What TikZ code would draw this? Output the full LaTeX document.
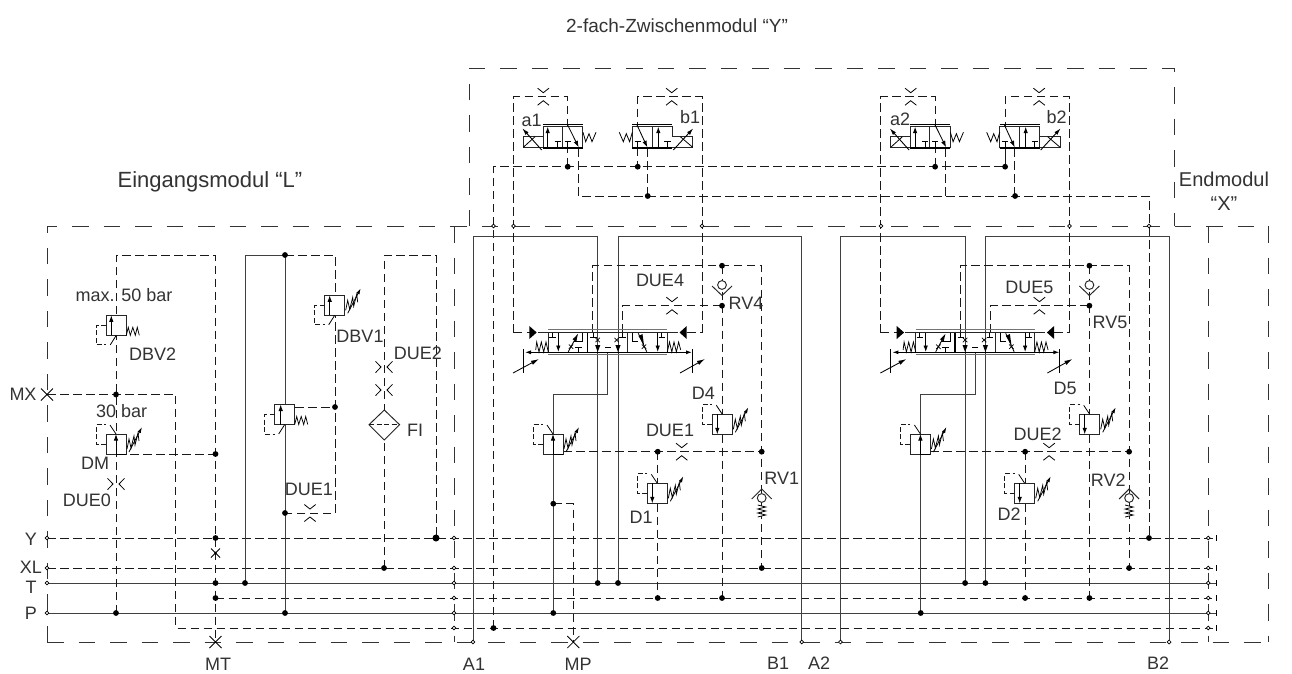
\documentclass[tikz,border=0pt]{standalone}
\usepackage{fontspec}
\setmainfont{Liberation Sans}
\usetikzlibrary{arrows.meta}
\tikzset{
  sol/.style={line width=.95pt,draw=black!75},
  dsh/.style={line width=1pt,draw=black!90,dash pattern=on 8.5pt off 4.5pt},
  frm/.style={line width=1pt,draw=black!80,dash pattern=on 16.5pt off 15pt},
  thn/.style={line width=.8pt,draw=black},
  cmp/.style={line width=.95pt,draw=black!85},
  txt/.style={inner sep=0pt,text=black!80,font=\fontsize{18}{20}\selectfont},
  big/.style={inner sep=0pt,text=black!80,font=\fontsize{20}{24}\selectfont,align=center},
  head/.style={-{Latex[length=6.5pt,width=4.5pt]}}
}
\newcommand\jdot[2]{\fill[black] (#1,#2) circle (2.9pt);}
\newcommand\pport[2]{\draw[line width=.7pt,fill=white] (#1,#2) circle (1.9pt);}
\newcommand\lab[4]{\node[txt] (#1) at (#2,#3) {#4};}
\newcommand\throtV[2]{\begin{scope}[shift={(#1,#2)}]
  \draw[thn] (-5.7,-8.5)--(0,-4)--(5.7,-8.5) (-5.7,8.5)--(0,4)--(5.7,8.5);
  \end{scope}}
\newcommand\throtH[2]{\begin{scope}[shift={(#1,#2)}]
  \draw[thn] (-8.5,-5.7)--(-3,0)--(-8.5,5.7) (8.5,-5.7)--(3,0)--(8.5,5.7);
  \end{scope}}
\newcommand\xmark[2]{\begin{scope}[shift={(#1,#2)}]
  \draw[thn] (-6,-6)--(6,6) (-6,6)--(6,-6);
  \end{scope}}
\newcommand\smallx[2]{\begin{scope}[shift={(#1,#2)}]
  \draw[line width=.7pt] (-2.2,-2.2)--(2.2,2.2) (-2.2,2.2)--(2.2,-2.2);
  \end{scope}}
% spring, plain
\newcommand\springP{\draw[line width=.75pt] (20,20)--(22,12)--(24,20)--(26.5,12)--(29,20)--(31,12)--(33,20);}
% spring, adjustable
\newcommand\springA{\draw[line width=.75pt] (21,15)--(23,5)--(25,14)--(28,2)--(29,11)--(32,-1)--(33,7);
  \draw[line width=.8pt,-{Latex[length=6pt,width=3.5pt]}] (23,18)--(36,-7);}
% pilot lines below / above
\newcommand\pilotB{\draw[dsh,dash pattern=on 5pt off 2.5pt] (0,10)--(-10,10)--(-10,29.5)--(0,29.5);\draw[line width=.8pt] (4,29.5)--(10,20);}
\newcommand\pilotA{\draw[dsh,dash pattern=on 5pt off 2.5pt] (0,10)--(-10,10)--(-10,-9.5)--(0,-9.5);\draw[line width=.8pt] (4,-9)--(10,0);}
% relief valve: x y kind pieces
\newcommand\vUp[3]{\begin{scope}[shift={(#1,#2)}]
  \draw[cmp,fill=white] (0,0) rectangle (20,20);
  \draw[line width=.85pt,head] (#3,20)--(#3,0);
  }
\newcommand\vDown[3]{\begin{scope}[shift={(#1,#2)}]
  \draw[cmp,fill=white] (0,0) rectangle (20,20);
  \draw[line width=.85pt,head] (#3,0)--(#3,20);
  }
% check valve: seat opening upward (RV4) or downward (RV1)
\newcommand\checkU[2]{\begin{scope}[shift={(#1,#2)}]
  \draw[cmp,fill=white] (0,0) circle (4.4pt);
  \draw[cmp] (-10,1)--(0,10.5)--(10,1);
  \end{scope}}
\newcommand\checkD[2]{\begin{scope}[shift={(#1,#2)}]
  \draw[cmp,fill=white] (0,0) circle (4.4pt);
  \draw[cmp] (-10,1)--(0,-9)--(10,1);
  \draw[line width=.8pt,fill=white] (-4,7)--(4,9)--(-4,11)--(4,13)--(-4,15)--(4,17)--(-4,19);
  \end{scope}}
\newcommand\tbar[3]{\draw[line width=.8pt] (#1,#2)--(#1,#3) (#1-3.2,#3)--(#1+3.2,#3);}
\newcommand\tipD[2]{\fill[black] (#1,#2)--(#1-2.6,#2-7)--(#1+2.6,#2-7)--cycle;}
% small pilot 4/2 valve, box 40x20.5, at (x0,126.7)
\newcommand\solA[1]{\begin{scope}[shift={(#1,126.7)}]
  \draw[cmp,fill=white] (0,0) rectangle (39.7,20.6);
  \draw[cmp] (19.4,0)--(19.4,20.6);
  \draw[line width=.9pt] (0,-2.4)--(39.7,-2.4);
  \draw[line width=1pt] (0,20.6)--(39.7,20.6) (0,22)--(39.7,22);
  \draw[cmp,fill=white] (0,10)--(-19.7,10)--(-19.7,20.6)--(0,20.6);
  \draw[line width=.8pt] (-19.7,20.6)--(-8,10);
  \draw[line width=.9pt,-{Latex[length=7pt,width=4pt]}] (-1.3,23.3)--(-20.7,1.6);
  \draw[line width=.85pt,head] (4.7,20.6)--(4.7,0);
  \tbar{14.7}{20.6}{15}
  \tbar{24.7}{20.6}{15}
  \draw[line width=.85pt,head] (24.3,-2.4)--(35.7,20.6);
  \draw[line width=.8pt] (40,5.6)--(42.7,15)--(46,7)--(49,15)--(53,5.6);
  \end{scope}}
\newcommand\solB[1]{\begin{scope}[shift={(#1,126.7)}]
  \draw[cmp,fill=white] (0,0) rectangle (40,20.6);
  \draw[cmp] (20,0)--(20,20.6);
  \draw[line width=.9pt] (0,-2.4)--(40,-2.4);
  \draw[line width=1pt] (0,20.6)--(40,20.6) (0,22)--(40,22);
  \draw[cmp,fill=white] (40,10)--(60.4,10)--(60.4,20.6)--(40,20.6);
  \draw[line width=.8pt] (60.4,20.6)--(48,10);
  \draw[line width=.9pt,-{Latex[length=7pt,width=4pt]}] (41,23.3)--(61,1.6);
  \draw[line width=.85pt,head] (26,20.6)--(26,0);
  \tbar{5.4}{20.6}{15}
  \tbar{35}{20.6}{15}
  \draw[line width=.85pt,head] (4.4,-2.4)--(15,20.6);
  \draw[line width=.8pt] (0,5.6)--(-2.7,15)--(-6,7)--(-9,15)--(-13,5.6);
  \end{scope}}
% one complete working section (drawn at the position of the first one)
\newcommand\worksec{%
  % main lines
  \draw[sol] (473,642)--(473,236)--(597.7,236)--(597.7,583);
  \draw[sol] (801.7,642)--(801.7,236)--(618,236)--(618,583);
  \draw[sol] (607.7,352)--(607.7,394.3)--(553.3,394.3)--(553.3,613);
  % pilot section
  \draw[dsh] (513.5,332.5)--(513.5,96.7)--(567.7,96.7)--(567.7,166.7);
  \draw[dsh] (702,332.5)--(702,96.7)--(637.7,96.7)--(637.7,166.7);
  \draw[dsh] (513.5,332.5)--(530,332.5);
  \draw[dsh] (687,332.5)--(702,332.5);
  \throtV{543.3}{96.7}
  \throtV{671.7}{96.7}
  \solA{543}
  \solB{632.3}
  \jdot{567.7}{166.7}
  \jdot{637.7}{166.7}
  \jdot{647.7}{196}
  % supply
  \draw[dsh] (592.7,332.5)--(592.7,265.7)--(761.7,265.7)--(761.7,568);
  \draw[dsh] (722,265.7)--(722,598);
  \draw[dsh] (622.7,332.5)--(622.7,305.7)--(722,305.7);
  \throtV{672}{305.7}
  \jdot{722}{265.7}
  \jdot{722}{305.7}
  \checkU{722}{285}
  \draw[dsh] (563,451.7)--(761.7,451.7);
  \draw[dsh] (657.7,451.7)--(657.7,598);
  \throtV{681.7}{451.7}
  \jdot{657.7}{451.7}
  \jdot{761.7}{451.7}
  \checkD{761.7}{498}
  % main valve
  \draw[line width=1.5pt,draw=black!55] (548.3,329.7)--(667.3,329.7) (548.3,354.6)--(667.3,354.6);
  \draw[cmp] (538,332.5)--(678,332.5);
  \draw[cmp] (548.3,332.5)--(548.3,352.3) (627.7,332.5)--(627.7,352.3) (667.3,332.5)--(667.3,352.3);
  \draw[line width=1.4pt] (587.7,332.5)--(587.7,352.3);
  \draw[line width=1pt,{Latex[length=6pt,width=4pt]}-{Latex[length=6pt,width=4pt]}] (525,352.3)--(692,352.3);
  \draw[thn] (523.3,349)--(523.3,373) (692,349)--(692,373);
  \draw[line width=.85pt,-{Latex[length=8pt,width=4.5pt]}] (513,373)--(539,359);
  \draw[line width=.85pt,-{Latex[length=8pt,width=4.5pt]}] (680,373)--(705,359);
  \fill[black] (529.3,326)--(536.7,332.5)--(529.3,339)--cycle;
  \fill[black] (679.5,332.5)--(686.7,326)--(686.7,339)--cycle;
  \draw[line width=.75pt] (548.3,352)--(546,342)--(543.7,352)--(541.3,342)--(539,352)--(536.7,342)--(535.7,350);
  \draw[line width=.75pt] (667.3,352)--(669.5,342)--(671.8,352)--(674,342)--(676.4,352)--(678.6,342)--(680.7,350);
  \tbar{552.3}{332.5}{337.3}
  \draw[line width=.85pt,head] (558.3,332.5)--(558.3,352);
  \draw[line width=.85pt,-{Latex[length=8pt,width=4.5pt]}] (568.3,351.7)--(578.3,333.3);
  \draw[line width=.8pt] (574,341.7)--(582.7,341.7)--(582.7,332.5);
  \smallx{571}{346.7}
  \draw[line width=.8pt] (578.3,352)--(578.3,347) (575,347)--(581.7,347);
  \tbar{593.3}{332.5}{337.3}
  \tbar{622.3}{332.5}{337.3}
  \smallx{597.7}{340}
  \smallx{616.7}{340}
  \tipD{597.7}{352}
  \tipD{618}{352}
  \draw[line width=.8pt] (605,347)--(610.7,347);
  \draw[line width=.8pt] (632.7,332.5)--(632.7,341)--(638.3,341);
  \draw[line width=.85pt] (638.3,333.3)--(646.7,351.7);
  \fill[black] (644,345)--(638.5,336)--(642.5,334)--cycle;
  \smallx{644}{346.7}
  \draw[line width=.85pt,head] (657.7,332.5)--(657.7,352);
  \tbar{661.7}{332.5}{337.3}
  % pressure valves
  \vUp{543}{434}{10}\pilotA\springA
    \draw[line width=.8pt] (10,20)--(20,20);\end{scope}
  \vDown{647.3}{483.3}{5}\pilotA\springA\end{scope}
  \vDown{712.3}{414.3}{5}\pilotA\springA\end{scope}
  % dots
  \jdot{553.3}{613}
  \jdot{597.7}{583}
  \jdot{618}{583}
  \jdot{657.7}{598}
  \jdot{722}{598}
  \jdot{761.7}{568}
  \pport{473}{642}
  \pport{801.7}{642}
  \pport{513.5}{226}
  \pport{702}{226}
}
\begin{document}
\begin{tikzpicture}[x=1pt,y=-1pt]
\useasboundingbox (0,0) rectangle (1292,673);
\fill[white] (0,0) rectangle (1292,673);
% frames
\draw[frm] (47,642)--(47,226)--(1268,226);
\draw[frm] (1268,226)--(1268,642);
\draw[frm] (47,642)--(1268,642);
\draw[frm] (454,226)--(454,642);
\draw[frm] (1208.3,226)--(1208.3,642);
\draw[frm] (469,226)--(469,68)--(1174,68)--(1174,226);
% horizontal bus lines
\draw[dsh] (47,538)--(1216,538);
\draw[dsh] (47,568)--(1216,568);
\draw[sol] (47,583)--(1216,583);
\draw[dsh] (215.5,598)--(1216,598);
\draw[sol] (47,613)--(1216,613);
\draw[dsh] (47,394.5)--(175.7,394.5)--(175.7,628)--(1216,628);
\foreach \yy in {538,568,583,598,613,628}{
  \draw[line width=.8pt] (1216,\yy-3)--(1216,\yy+3);
  \pport{454}{\yy}
  \pport{1208.3}{\yy}
}
\foreach \yy in {538,568,583,613}{\pport{47}{\yy}}
% inlet module
\draw[dsh] (116,613)--(116,255)--(215.5,255)--(215.5,642);
\draw[sol] (245,583)--(245,255)--(285,255)--(285,613);
\draw[dsh] (285,255)--(335,255)--(335,513)--(285,513);
\draw[dsh] (295,407)--(335,407);
\draw[dsh] (384,568)--(384,255)--(436,255)--(436,538);
\draw[dsh] (130,454)--(215.5,454);
\vUp{106.3}{315.3}{5}\pilotB\springP\end{scope}
\vUp{106}{434}{10}\pilotA\springA
  \draw[line width=.8pt] (10,20)--(20,20);\end{scope}
\vUp{324.7}{295.3}{5}\pilotB\springA\end{scope}
\vUp{274.7}{404.5}{6}\pilotB\springP\end{scope}
\throtH{116}{484}
\throtV{310}{513}
\throtH{384}{367}
\throtH{384}{390}
\draw[cmp,fill=white] (369,424.7)--(384.3,410)--(399.6,424.7)--(384.3,440)--cycle;
\draw[dsh,dash pattern=on 5pt off 2.5pt] (369,424.7)--(399.6,424.7);
\xmark{47}{394.5}
\draw[thn] (211,548.5)--(220,557.5) (211,557.5)--(220,548.5);
\fill[black] (215.5,553) circle (1.5pt);
\xmark{215.5}{642}
\jdot{116}{394.5}
\jdot{116}{613}
\jdot{215.5}{454}
\jdot{215.5}{538}
\jdot{215.5}{583}
\jdot{215.5}{598}
\jdot{245}{583}
\jdot{285}{255}
\jdot{285}{513}
\jdot{285}{613}
\jdot{335}{407}
\jdot{384}{568}
\fill[black] (436,538) circle (3.5pt);
% pilot return lines of the intermediate module
\draw[dsh] (493.5,628)--(493.5,166.7)--(1005,166.7)--(1005,148);
\draw[dsh] (578.3,148)--(578.3,196)--(1149,196)--(1149,538);
\draw[dsh] (647.7,148)--(647.7,196);
\draw[dsh] (945.3,148)--(945.3,196);
\draw[dsh] (1014.7,148)--(1014.7,196);
\jdot{493.5}{628}
\pport{493.5}{226}
\worksec
\begin{scope}[shift={(367.4,0)}]
\worksec
\end{scope}
% pressure gauge branch of the first section only
\draw[dsh] (553.3,503.7)--(573.3,503.7)--(573.3,642);
\jdot{553.3}{503.7}
\xmark{573.3}{642}
\jdot{1149}{538}
\pport{1149}{226}
% labels
\node[big] (tY) at (677,26) {\fontsize{19}{22}\selectfont 2-fach-Zwischenmodul “Y”};
\node[big] (tL) at (210,182) {\fontsize{22}{24}\selectfont Eingangsmodul “L”};
\node[big] (tX) at (1224,191) {\fontsize{20}{26}\selectfont Endmodul\\“X”};
\lab{n1}{124}{295}{max. 50 bar}
\lab{n2}{152.7}{354}{DBV2}
\lab{n3}{121.7}{411}{30 bar}
\lab{n4}{360}{336}{DBV1}
\lab{n5}{418}{353}{DUE2}
\lab{n6}{415}{430}{FI}
\lab{n7}{95}{463}{DM}
\lab{n8}{87}{500}{DUE0}
\lab{n9}{309}{489}{DUE1}
\lab{n10}{218}{664}{MT}
\lab{n11}{23}{394}{MX}
\lab{n12}{31}{539}{Y}
\lab{n13}{31}{567.5}{XL}
\lab{n14}{31}{587}{T}
\lab{n15}{31}{613}{P}
\lab{n16}{474}{664}{A1}
\lab{n17}{578}{664}{MP}
\lab{n18}{778}{663}{B1}
\lab{n19}{819}{663}{A2}
\lab{n20}{1158}{663}{B2}
\lab{n21}{531.7}{120}{a1}
\lab{n22}{690}{117.3}{b1}
\lab{n23}{900}{119.3}{a2}
\lab{n24}{1056.7}{117.3}{b2}
\lab{n25}{660}{280}{DUE4}
\lab{n26}{746}{303.3}{RV4}
\lab{n27}{703.3}{393.3}{D4}
\lab{n28}{670}{430.7}{DUE1}
\lab{n29}{781.7}{478.3}{RV1}
\lab{n30}{641}{517.7}{D1}
\lab{n31}{1029.3}{287.3}{DUE5}
\lab{n32}{1110}{322.3}{RV5}
\lab{n33}{1065}{388.3}{D5}
\lab{n34}{1037.7}{434.3}{DUE2}
\lab{n35}{1108.3}{480}{RV2}
\lab{n36}{1009}{514.3}{D2}
\end{tikzpicture}
\end{document}
